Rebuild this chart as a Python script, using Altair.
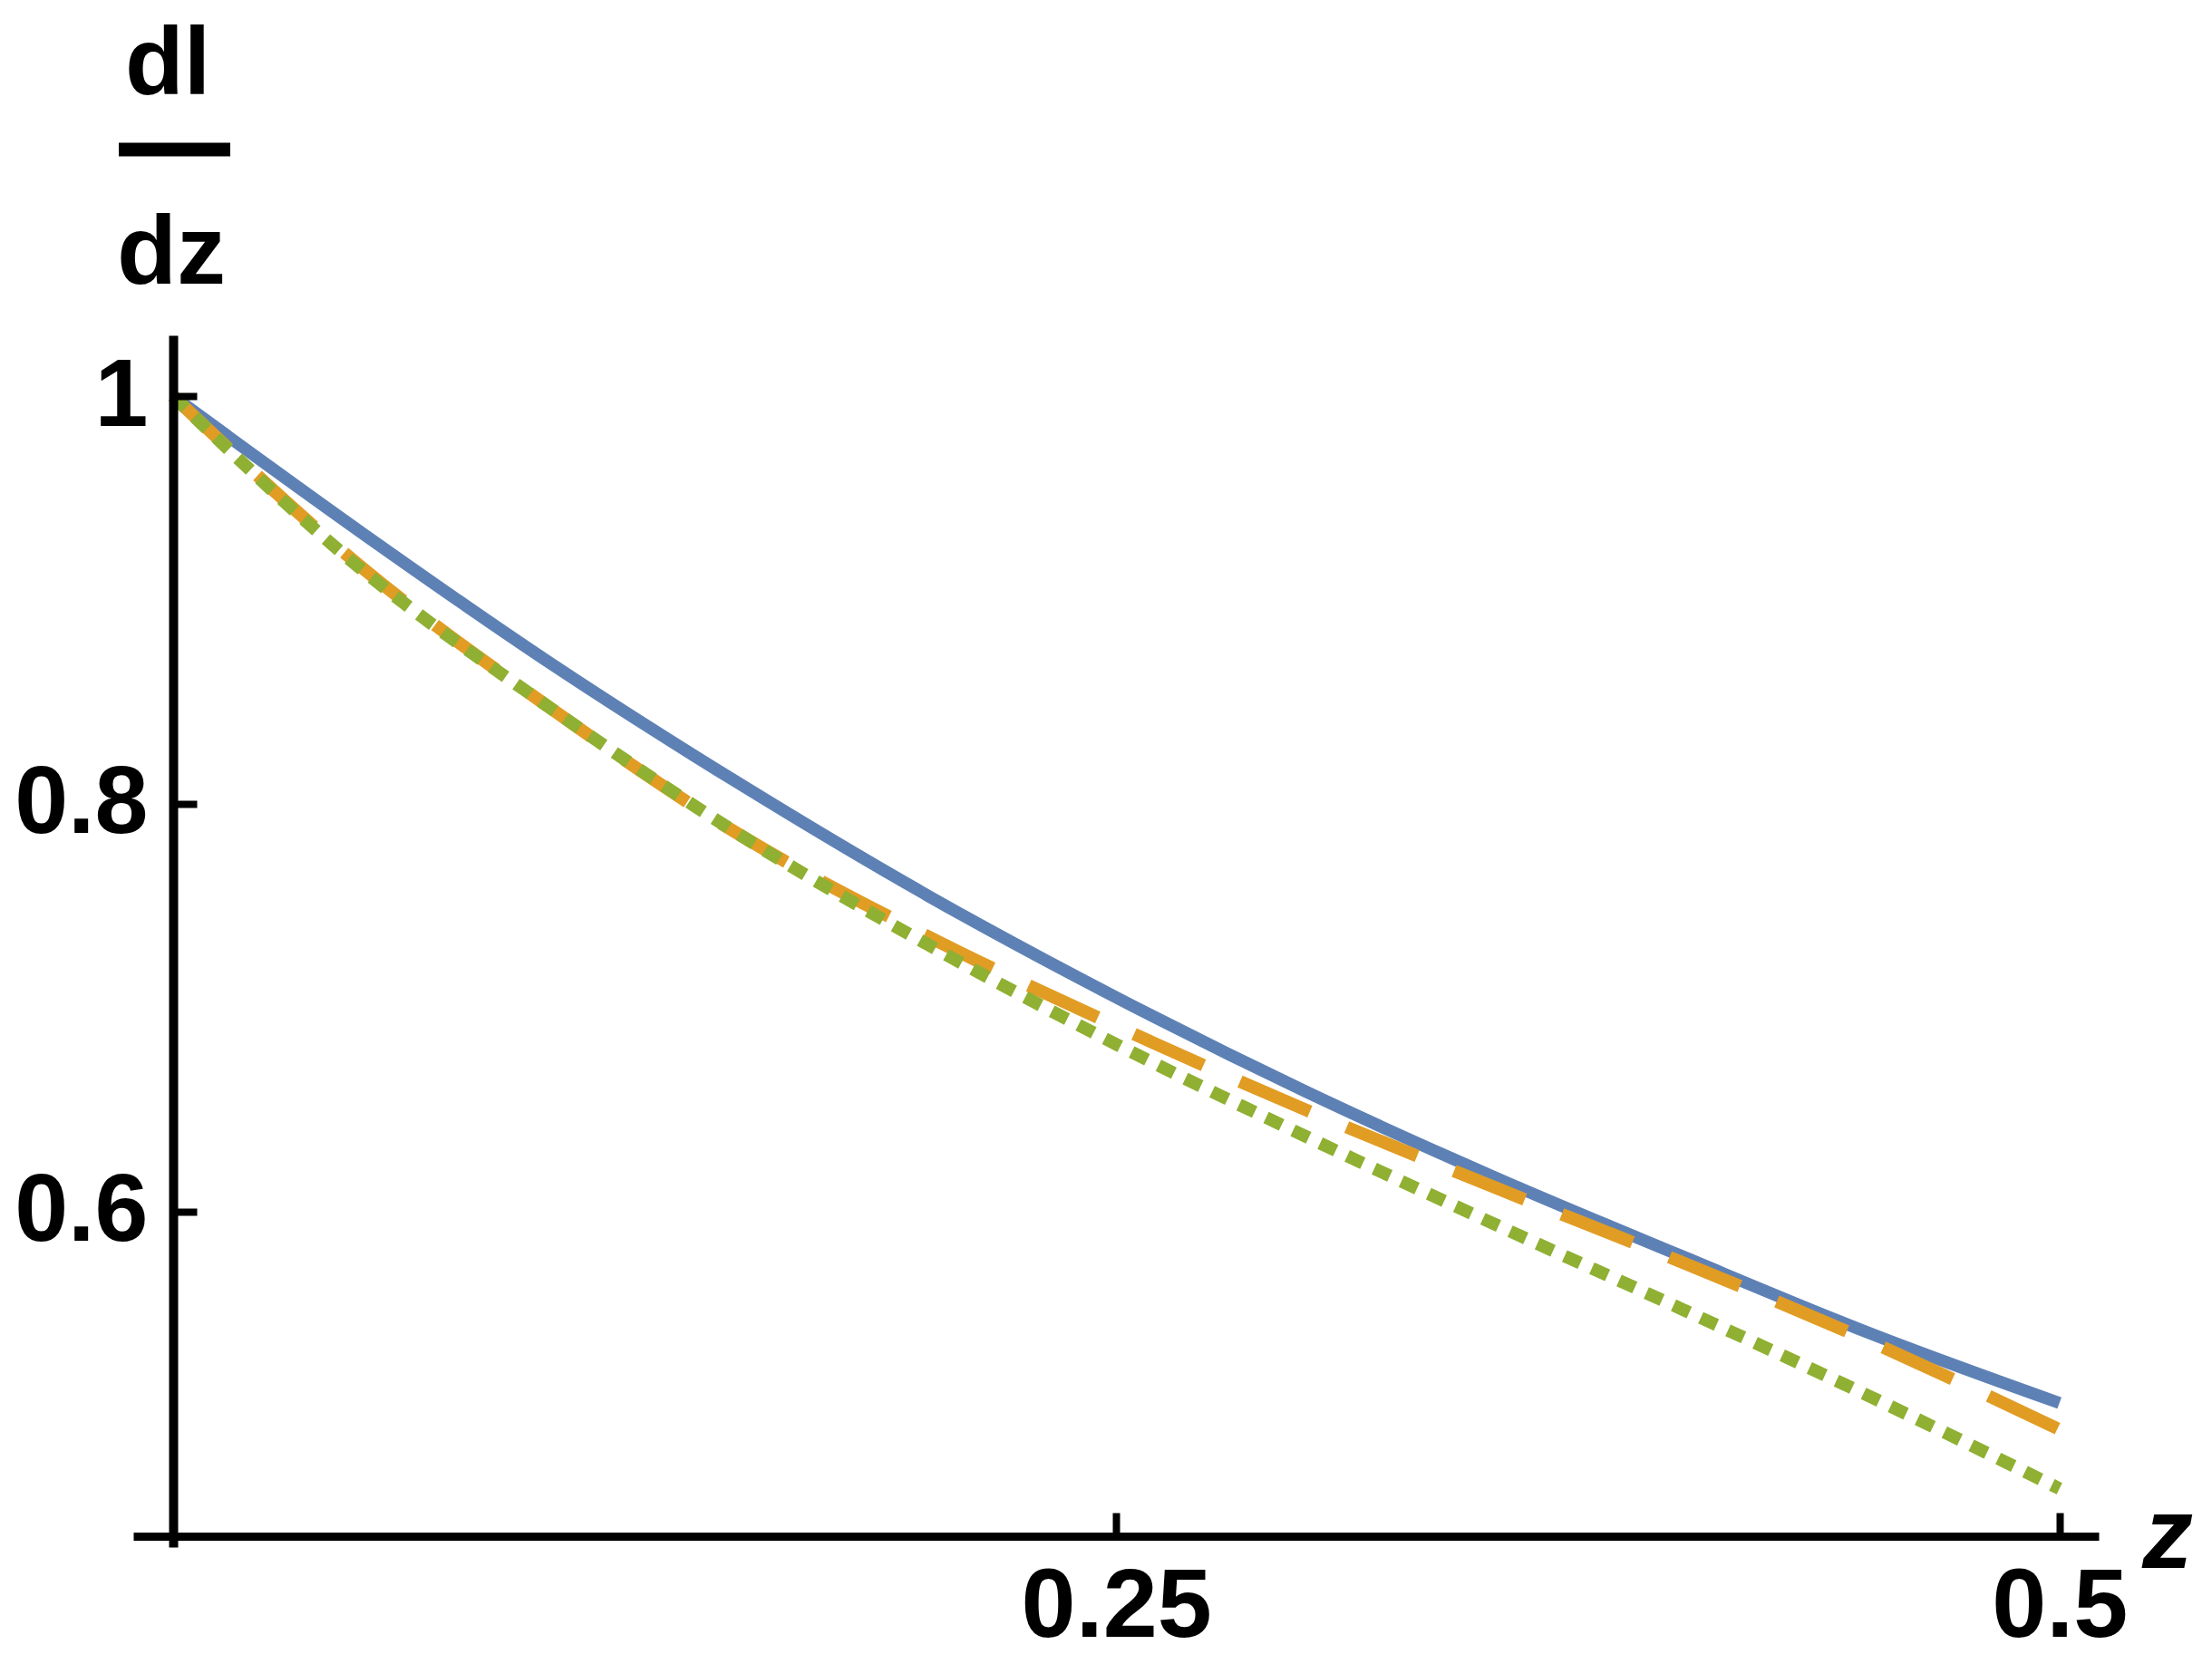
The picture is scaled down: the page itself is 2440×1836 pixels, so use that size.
import altair as alt
import pandas as pd

# ---- data ----
z_vals = [0.0, 0.05, 0.1, 0.15, 0.2, 0.25, 0.3, 0.35, 0.4, 0.45, 0.5]
blue_vals = [1.0, 0.933, 0.869, 0.810, 0.755, 0.705, 0.659, 0.617, 0.578, 0.540, 0.506]
orange_vals = [1.0, 0.916, 0.847, 0.785, 0.735, 0.691, 0.650, 0.612, 0.575, 0.536, 0.493]
green_vals = [1.0, 0.915, 0.847, 0.785, 0.731, 0.682, 0.637, 0.594, 0.552, 0.509, 0.464]

x_ticks = [0.25, 0.5]
y_ticks = [0.6, 0.8, 1.0]

x_domain = [-0.0105, 0.5104]
y_domain = [0.4353, 1.0298]

FONT = "Liberation Sans"
W, H = 2168, 1337

rows = []
for name, vals in [("blue", blue_vals), ("orange", orange_vals), ("green", green_vals)]:
    for z, v in zip(z_vals, vals):
        rows.append({"series": name, "z": z, "v": v})
df = pd.DataFrame(rows)

xs = alt.Scale(domain=x_domain, nice=False, zero=False)
ys = alt.Scale(domain=y_domain, nice=False, zero=False)

x_axis = alt.Axis(
    orient="top", offset=-1325, values=x_ticks, title=None, grid=False,
    tickSize=26, tickWidth=8, tickColor="black", domainWidth=9, domainColor="black",
    labelFont=FONT, labelFontSize=108, labelFontWeight="bold", labelColor="black",
    labelBaseline="top", labelAlign="center", labelPadding=-51, labelLimit=1000,
    labelFlush=False, labelOverlap=False, format="~g", zindex=1,
)
y_axis = alt.Axis(
    orient="right", offset=-2124, values=y_ticks, title=None, grid=False,
    tickSize=26, tickWidth=8, tickColor="black", domainWidth=10, domainColor="black",
    labelFont=FONT, labelFontSize=106, labelFontWeight="bold", labelColor="black",
    labelBaseline="middle", labelAlign="right", labelPadding=-54, labelLimit=1000,
    labelFlush=False, labelOverlap=False, format="~g", zindex=1,
)

base = alt.Chart(df)

blue = base.transform_filter(alt.datum.series == "blue").mark_line(
    color="#5E81B5", strokeWidth=13.5, interpolate="monotone"
).encode(
    x=alt.X("z:Q", scale=xs, axis=x_axis),
    y=alt.Y("v:Q", scale=ys, axis=y_axis),
)
orange = base.transform_filter(alt.datum.series == "orange").mark_line(
    color="#E19C24", strokeWidth=14, strokeDash=[84, 44], interpolate="monotone"
).encode(x=alt.X("z:Q", scale=xs), y=alt.Y("v:Q", scale=ys))
green = base.transform_filter(alt.datum.series == "green").mark_line(
    color="#8FB032", strokeWidth=14, strokeDash=[19, 14], interpolate="monotone"
).encode(x=alt.X("z:Q", scale=xs), y=alt.Y("v:Q", scale=ys))

def label(txt, x, y, size, style="normal", align="center"):
    return alt.Chart(alt.Data(values=[{"t": txt}])).mark_text(
        font=FONT, fontSize=size, fontWeight="bold", fontStyle=style,
        align=align, baseline="alphabetic", color="black"
    ).encode(text="t:N", x=alt.value(x), y=alt.value(y))

dl = label("dl", 38, -266, 106)
dz = label("dz", 42, -57, 108)
zt = label("z", 2244, 1360, 112, style="italic")
bar = alt.Chart(alt.Data(values=[{"a": 1}])).mark_rule(color="black", strokeWidth=15).encode(
    x=alt.value(-16), x2=alt.value(107), y=alt.value(-205)
)

chart = alt.layer(blue, orange, green, dl, dz, zt, bar).properties(
    width=W, height=H,
    background="white",
    autosize=alt.AutoSizeParams(type="none"),
    padding={"left": 139, "top": 362, "right": 110, "bottom": 120},
).configure_view(stroke="transparent", strokeWidth=0)

chart.save("out.html", embed_options={"renderer": "svg", "actions": False})
